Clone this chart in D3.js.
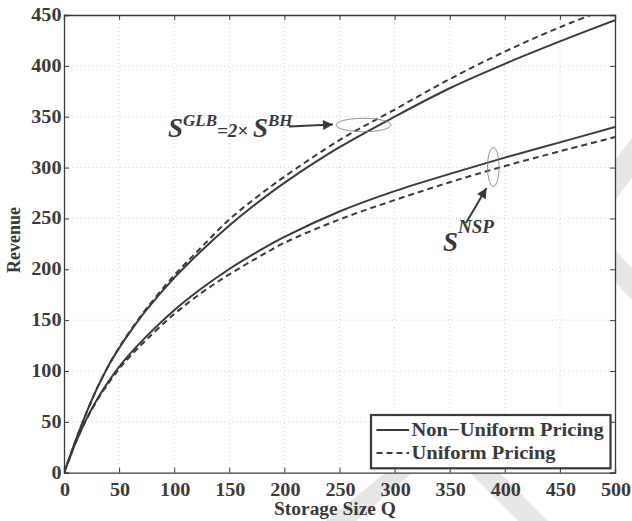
<!DOCTYPE html>
<html><head><meta charset="utf-8">
<script src="https://cdn.jsdelivr.net/npm/d3@7"></script>
<style>body{margin:0;background:#fff}svg{display:block}</style>
</head><body>
<svg id="c" width="632" height="521"></svg>
<script>
const storageQ = [0,5,10,20,30,40,50,60,75,100,125,150,175,200,250,300,350,400,450,500];
const glbNonUniform = [0,15,30,58,83,104.5,122.5,138.5,160.3,191.5,218.5,243,265,285,320,350,378,402,424,445];
const glbUniform    = [0,15,30,58,83,104.5,123,139.5,161.5,194,222,249,271,291,327,357,387,414,438,459];
const nspNonUniform = [0,14,28,52,72,89,104,117,134.3,159.8,181.3,200.3,216.8,231.8,256.8,276.8,293.8,309.8,324.8,339.8];
const nspUniform    = [0,14,28,51.5,71,87.5,102,114.5,131,156,177,195,211,226,249,268,285.5,301.5,316,330];
const xTicks = [0,50,100,150,200,250,300,350,400,450,500];
const yTicks = [0,50,100,150,200,250,300,350,400,450];
const legendLabels = ["Non\u2212Uniform Pricing","Uniform Pricing"];

const svg = d3.select("#c");
const L=64, R=615, T=15, B=472.7;
const x = d3.scaleLinear().domain([0,500]).range([L,R]);
const y = d3.scaleLinear().domain([0,450]).range([B,T]);
const ink = "#3a3a3a";
const serif = "'Liberation Serif','Times New Roman',serif";
const SX = 1.12;

// faint background watermark pieces (margins)
const wm = svg.append("g").attr("fill","#e6e6e6");
[
  [[385,473],[412,473],[356,521],[326,521]],
  [[470,473],[500,473],[548,521],[518,521]],
  [[632,138],[632,178],[615,200],[615,160]],
  [[615,250],[615,282],[632,300],[632,268]]
].forEach(p=>wm.append("polygon").attr("points",p.map(q=>q.join(",")).join(" ")));
svg.append("rect").attr("x",L).attr("y",T).attr("width",R-L).attr("height",B-T).attr("fill","#fff");

// grid
const g = svg.append("g");
g.selectAll(".gx").data(xTicks.slice(1,-1)).join("line")
  .attr("x1",d=>x(d)).attr("x2",d=>x(d)).attr("y1",T).attr("y2",B)
  .attr("stroke","#c8c8c8").attr("stroke-width",0.8).attr("stroke-dasharray","1,3");
g.selectAll(".gy").data(yTicks.slice(1,-1)).join("line")
  .attr("y1",d=>y(d)).attr("y2",d=>y(d)).attr("x1",L).attr("x2",R)
  .attr("stroke","#c8c8c8").attr("stroke-width",0.8).attr("stroke-dasharray","1,3");

// axes (inward ticks, box)
const axB = d3.axisBottom(x).tickValues(xTicks).tickSize(-5).tickFormat("");
const axT = d3.axisTop(x).tickValues(xTicks).tickSize(-5).tickFormat("");
const axL = d3.axisLeft(y).tickValues(yTicks).tickSize(-5).tickFormat("");
const axR = d3.axisRight(y).tickValues(yTicks).tickSize(-5).tickFormat("");
[[axB,`translate(0,${B})`],[axT,`translate(0,${T})`],[axL,`translate(${L},0)`],[axR,`translate(${R},0)`]].forEach(([a,t])=>{
  const ga = svg.append("g").attr("transform",t).call(a);
  ga.select(".domain").attr("stroke",ink).attr("stroke-width",1.3);
  ga.selectAll(".tick line").attr("stroke",ink).attr("stroke-width",1);
});

// tick labels
svg.selectAll(".xl").data(xTicks).join("text")
  .attr("transform",d=>`translate(${x(d)+1},495.5) scale(${SX},1)`)
  .attr("text-anchor","middle").attr("font-family",serif).attr("font-weight","bold")
  .attr("font-size",18).attr("fill",ink).text(d=>d);
svg.selectAll(".yl").data(yTicks).join("text")
  .attr("transform",d=>`translate(61.5,${y(d)+6}) scale(${SX},1)`)
  .attr("text-anchor","end").attr("font-family",serif).attr("font-weight","bold")
  .attr("font-size",18).attr("fill",ink).text(d=>d);

// axis titles
svg.append("text").attr("transform",`translate(335,515) scale(1.08,1)`)
  .attr("text-anchor","middle").attr("font-family",serif).attr("font-weight","bold")
  .attr("font-size",18).attr("fill",ink).text("Storage Size Q");
svg.append("text").attr("transform",`translate(20,240) rotate(-90) scale(1,1.08)`)
  .attr("text-anchor","middle").attr("font-family",serif).attr("font-weight","bold")
  .attr("font-size",18).attr("fill",ink).text("Revenue");

// curves
svg.append("clipPath").attr("id","clip").append("rect").attr("x",L).attr("y",T).attr("width",R-L).attr("height",B-T);
const line = arr => d3.line().x((d,i)=>x(storageQ[i])).y(d=>y(d)).curve(d3.curveCatmullRom.alpha(0.5))(arr);
const series = [
  {v:glbNonUniform, dash:null},
  {v:glbUniform, dash:"6,4"},
  {v:nspNonUniform, dash:null},
  {v:nspUniform, dash:"6,4"}
];
const cg = svg.append("g").attr("clip-path","url(#clip)");
series.forEach(s=>{
  cg.append("path").attr("d",line(s.v)).attr("fill","none").attr("stroke",ink)
    .attr("stroke-width",2).attr("stroke-dasharray",s.dash);
});

// annotations
svg.append("defs").append("marker").attr("id","ah").attr("viewBox","0 0 10 10")
  .attr("refX",10).attr("refY",5).attr("markerWidth",12).attr("markerHeight",10)
  .attr("markerUnits","userSpaceOnUse").attr("orient","auto")
  .append("path").attr("d","M0,0L10,5L0,10z").attr("fill",ink);

const ann1 = svg.append("text").attr("font-family",serif).attr("font-style","italic")
  .attr("font-weight","bold").attr("fill",ink).attr("transform","translate(168,137)");
ann1.append("tspan").attr("font-size",27).text("S");
ann1.append("tspan").attr("font-size",17).attr("dy",-11).text("GLB");
ann1.append("tspan").attr("font-size",19).attr("dy",11).text("=2\u00d7 ");
ann1.append("tspan").attr("font-size",27).text("S");
ann1.append("tspan").attr("font-size",17).attr("dy",-11).text("BH");
svg.append("line").attr("x1",289).attr("y1",126.5).attr("x2",333).attr("y2",124.5)
  .attr("stroke",ink).attr("stroke-width",2).attr("marker-end","url(#ah)");
svg.append("ellipse").attr("cx",363.5).attr("cy",125).attr("rx",27.5).attr("ry",6.7)
  .attr("fill","none").attr("stroke","#888").attr("stroke-width",0.9);

const ann2 = svg.append("text").attr("font-family",serif).attr("font-style","italic")
  .attr("font-weight","bold").attr("fill",ink).attr("transform","translate(443,251)");
ann2.append("tspan").attr("font-size",27).text("S");
ann2.append("tspan").attr("font-size",19).attr("dy",-18).text("NSP");
svg.append("line").attr("x1",466).attr("y1",223).attr("x2",486.5).attr("y2",188)
  .attr("stroke",ink).attr("stroke-width",2).attr("marker-end","url(#ah)");
svg.append("ellipse").attr("cx",493.3).attr("cy",167).attr("rx",5.8).attr("ry",19.7)
  .attr("fill","none").attr("stroke","#888").attr("stroke-width",0.9);

// legend
const lg = svg.append("g");
lg.append("rect").attr("x",371).attr("y",415).attr("width",239.5).attr("height",53.3)
  .attr("fill","#fff").attr("stroke",ink).attr("stroke-width",2.2);
legendLabels.forEach((t,i)=>{
  const yy = i===0?430:453;
  lg.append("line").attr("x1",376.5).attr("x2",409).attr("y1",yy).attr("y2",yy)
    .attr("stroke",ink).attr("stroke-width",2).attr("stroke-dasharray",i===0?null:"6,4");
  lg.append("text").attr("transform",`translate(411.5,${yy+6}) scale(1.08,1)`)
    .attr("font-family",serif).attr("font-weight","bold").attr("font-size",19)
    .attr("fill",ink).text(t);
});
</script>
</body></html>
